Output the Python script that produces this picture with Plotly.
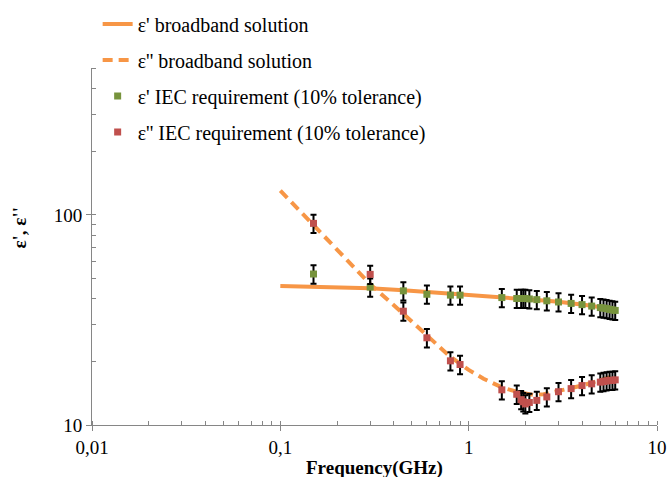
import plotly.graph_objects as go

# Broadband solution curves
freq_fit = [0.1, 0.15, 0.2, 0.3, 0.45, 0.6, 0.8, 0.9, 1.0, 1.2, 1.5, 1.8, 2.0, 2.2, 2.5, 3.0, 3.5, 4.0, 4.5, 5.0, 5.5, 6.0]
eps1_fit = [45.9, 45.6, 45.3, 44.8, 43.8, 43.0, 42.4, 42.1, 41.9, 41.3, 40.6, 40.1, 39.8, 39.5, 39.1, 38.6, 38.1, 37.5, 36.9, 36.3, 35.8, 35.3]
eps2_fit = [130.5, 89.4, 68.5, 46.8, 33.8, 26.8, 21.1, 19.6, 18.3, 16.6, 15.1, 14.4, 14.1, 13.9, 14.0, 14.5, 14.9, 15.4, 15.9, 16.4, 16.8, 17.2]

# IEC requirement points
freq_iec = [0.15, 0.3, 0.45, 0.6, 0.8, 0.9, 1.5, 1.8, 1.9, 1.95, 2.0, 2.1, 2.3, 2.6, 3.0, 3.5, 4.0, 4.5, 5.0, 5.2, 5.4, 5.6, 5.8, 6.0]
eps1_iec = [52.3, 45.3, 43.5, 41.9, 41.5, 41.5, 40.4, 40.0, 40.0, 40.0, 40.0, 39.8, 39.5, 39.0, 38.5, 37.9, 37.4, 36.8, 36.2, 36.0, 35.8, 35.5, 35.3, 35.1]
eps2_iec = [91.1, 52.1, 34.8, 26.0, 20.2, 19.4, 14.7, 14.0, 13.2, 12.9, 12.6, 12.8, 13.1, 13.6, 14.4, 14.9, 15.4, 15.7, 16.0, 16.1, 16.2, 16.3, 16.3, 16.4]
tolerance_pct = 10

x_tickvals = [0.01, 0.1, 1, 10]
x_ticktext = ["0,01", "0,1", "1", "10"]
y_tickvals = [10, 100]
y_ticktext = ["10", "100"]

names = ["ε' broadband solution", "ε'' broadband solution",
         "ε' IEC requirement (10% tolerance)", "ε'' IEC requirement (10% tolerance)"]

ORANGE = "#F79646"
GREEN = "#77933C"
RED = "#C0504D"
FONT = "Liberation Serif, Times New Roman, serif"
AX = "#868686"

fig = go.Figure()
fig.add_trace(go.Scatter(x=freq_fit, y=eps1_fit, mode="lines", name=names[0],
                         legendgroup="a", line=dict(color=ORANGE, width=4)))
fig.add_trace(go.Scatter(x=freq_fit, y=eps2_fit, mode="lines", name=names[1],
                         legendgroup="b", line=dict(color=ORANGE, width=4, dash="10px,6px")))
fig.add_trace(go.Scatter(x=freq_iec, y=eps1_iec, mode="markers", name=names[2],
                         legendgroup="c",
                         marker=dict(symbol="square", size=7, color=GREEN),
                         error_y=dict(type="percent", value=tolerance_pct, color="black",
                                      thickness=2, width=3)))
fig.add_trace(go.Scatter(x=freq_iec, y=eps2_iec, mode="markers", name=names[3],
                         legendgroup="d",
                         marker=dict(symbol="square", size=7, color=RED),
                         error_y=dict(type="percent", value=tolerance_pct, color="black",
                                      thickness=2, width=3)))

minor_x = [m * 10 ** e for e in (-2, -1, 0) for m in range(1, 10)] + [10]
minor_y = [m * 10 ** e for e in (1, 2) for m in range(1, 10)]
minor_y = [v for v in minor_y if v <= 500]

fig.update_layout(
    width=668, height=477,
    margin=dict(l=92, r=11, t=68, b=52, autoexpand=False),
    paper_bgcolor="white", plot_bgcolor="white",
    font=dict(family=FONT, size=19, color="black"),
    showlegend=True,
    legend=dict(x=0.010, y=1.178, xanchor="left", yanchor="top",
                bgcolor="rgba(0,0,0,0)", tracegroupgap=7,
                font=dict(family=FONT, size=20, color="black")),
    xaxis=dict(type="log", range=[-2, 1], showgrid=False, zeroline=False,
               automargin=False,
               showline=True, linecolor=AX, linewidth=1,
               tickvals=x_tickvals, ticktext=x_ticktext,
               ticks="outside", ticklen=5, tickcolor=AX,
               minor=dict(tickvals=minor_x, ticks="inside", ticklen=4, tickcolor=AX),
               tickfont=dict(family=FONT, size=19)),
    yaxis=dict(type="log", range=[1, 2.69897], showgrid=False, zeroline=False,
               automargin=False,
               showline=True, linecolor=AX, linewidth=1,
               tickvals=y_tickvals, ticktext=y_ticktext,
               ticks="outside", ticklen=5, tickcolor=AX,
               minor=dict(tickvals=minor_y, ticks="inside", ticklen=4, tickcolor=AX),
               tickfont=dict(family=FONT, size=19)),
    annotations=[
        dict(text="<b>ε', ε''</b>", textangle=-90, xref="paper", yref="paper",
             x=-0.128, y=0.552, xanchor="center", yanchor="middle", showarrow=False,
             font=dict(family=FONT, size=19, color="black")),
        dict(text="<b>Frequency(GHz)</b>", xref="paper", yref="paper",
             x=0.5, y=-0.12, xanchor="center", yanchor="middle", showarrow=False,
             font=dict(family=FONT, size=19, color="black")),
    ],
)

fig.write_html("out.html")
